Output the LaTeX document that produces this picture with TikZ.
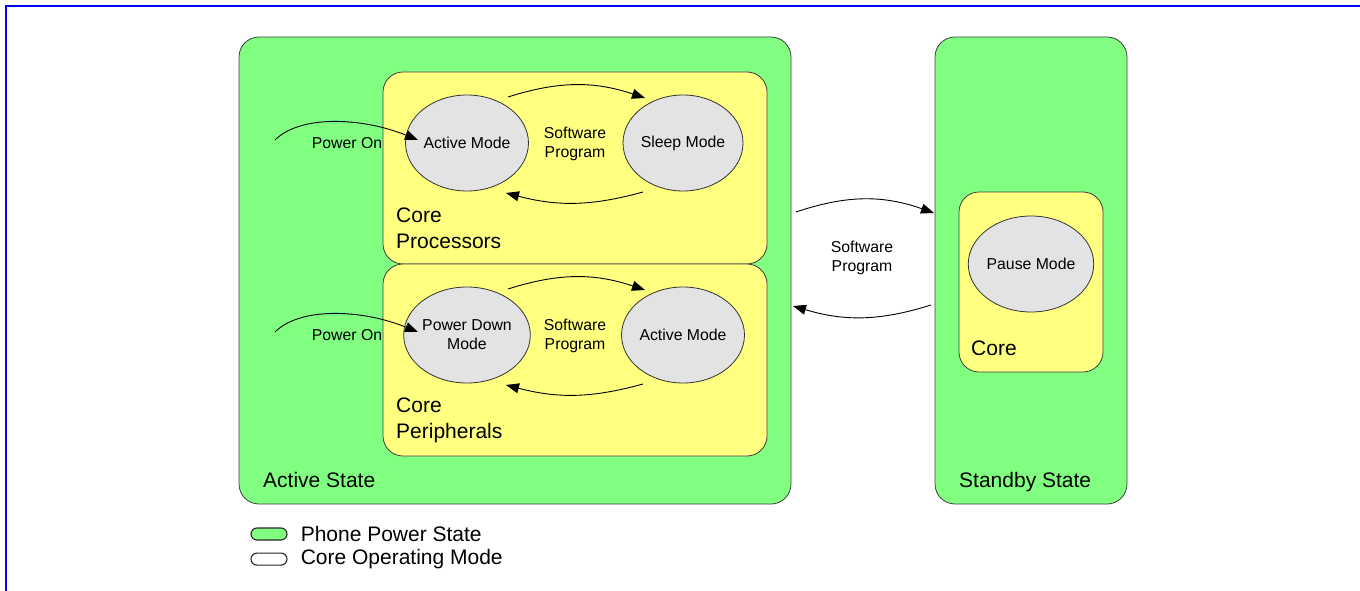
\documentclass[tikz,border=0pt]{standalone}
\usepackage{fontspec}
\setmainfont{Liberation Sans}
\usetikzlibrary{positioning,arrows.meta,shapes.geometric}
\definecolor{stategreen}{RGB}{128,255,128}
\definecolor{coreyellow}{RGB}{255,255,128}
\definecolor{modegrey}{RGB}{227,227,227}
\definecolor{frameblue}{RGB}{0,0,255}
\newcommand{\smallfnt}{\fontsize{15.8}{19}\selectfont}
\newcommand{\bigfnt}{\fontsize{21}{26}\selectfont}
\tikzset{
  statebox/.style={draw=black!75,fill=stategreen,rounded corners=20pt,inner sep=0pt,line width=0.8pt},
  corebox/.style={draw=black!75,fill=coreyellow,rounded corners=20pt,inner sep=0pt,line width=0.8pt},
  modeell/.style={ellipse,draw=black!80,fill=modegrey,line width=0.8pt,minimum width=120pt,
    minimum height=96pt,inner sep=0pt,align=center,font=\smallfnt},
  trans/.style={-{Triangle[length=13pt,width=10pt]},line width=0.9pt,bend left=#1},
  trans/.default=18,
  lbl/.style={font=\bigfnt,anchor=west,inner sep=0pt,align=left},
  note/.style={font=\smallfnt,align=center,inner sep=0pt},
  pill/.style={draw=black!85,line width=1.1pt,rounded corners=6pt,minimum width=36pt,minimum height=12pt,inner sep=0pt},
}

\begin{document}
\begin{tikzpicture}[x=1pt,y=1pt]
  \useasboundingbox (0,0) rectangle (1360,-591);
  \draw[frameblue,line width=2pt] (6,-591) -- (6,-6) -- (1360,-6);

  % phone power states
  \node[statebox,minimum width=552pt,minimum height=467pt] (act) at (515,-270.5) {};
  \node[statebox,minimum width=192pt,minimum height=467pt] (stby) at (1031,-270.5) {};
  \node[lbl,anchor=base west] (act-lbl) at (263,-487.5) {Active State};
  \node[lbl,anchor=base west] (stby-lbl) at (959,-487.5) {Standby State};

  % two core panels inside the active state
  \foreach \n/\dy/\ma/\mb/\cl in {cp/0/Active Mode/Sleep Mode/Processors,
                                  cq/192/{Power Down\\Mode}/Active Mode/Peripherals} {
    \node[corebox,minimum width=384pt,minimum height=192pt] (\n) at (575,{-168-\dy}) {};
    \node[modeell] (\n-a) at (467,{-143-\dy}) {\ma};
    \node[modeell] (\n-b) at (683,{-143-\dy}) {\mb};
    \node[note] (\n-sw) at (575,{-144-\dy}) {Software\\Program};
    \node[note] (\n-on) at (347,{-143-\dy}) {Power On};
    \node[lbl] (\n-lbl) at (396,{-228-\dy}) {Core\\\cl};
    \coordinate (\n-in) at (275,{-140-\dy});
    \coordinate (\n-tip) at (418,{-140-\dy});
    \coordinate (\n-t1) at (508,{-97-\dy});
    \coordinate (\n-t2) at (645,{-98-\dy});
    \coordinate (\n-b1) at (643,{-192-\dy});
    \coordinate (\n-b2) at (506,{-193-\dy});
    \draw[trans] (\n-in) .. controls +(25,25) and +(-57,23) .. (\n-tip);
    \draw[trans] (\n-t1) to (\n-t2);
    \draw[trans=15] (\n-b1) to (\n-b2);
  }

  % standby core
  \node[corebox,minimum width=144pt,minimum height=180pt] (core) at (1031,-282) {};
  \node[modeell] (pause) at (1031,-264) {Pause Mode};
  \node[lbl,anchor=base west] (core-lbl) at (971,-355.5) {Core};

  % transitions between power states
  \coordinate (go1) at (796,-212);
  \coordinate (go2) at (934,-213);
  \coordinate (back1) at (931,-305);
  \coordinate (back2) at (793,-306);
  \draw[trans=19] (go1) to (go2);
  \draw[trans=17] (back1) to (back2);
  \node[note] (mid-sw) at (862,-258) {Software\\Program};

  % legend
  \node[pill,fill=stategreen] (lg-state) at (269,-534) {};
  \node[pill,fill=white,below=12pt of lg-state] (lg-mode) {};
  \node[font=\bigfnt,inner sep=0pt,right=13pt of lg-state] (lg-state-t) {Phone Power State};
  \node[font=\bigfnt,inner sep=0pt,right=13pt of lg-mode] (lg-mode-t) {Core Operating Mode};
\end{tikzpicture}
\end{document}
